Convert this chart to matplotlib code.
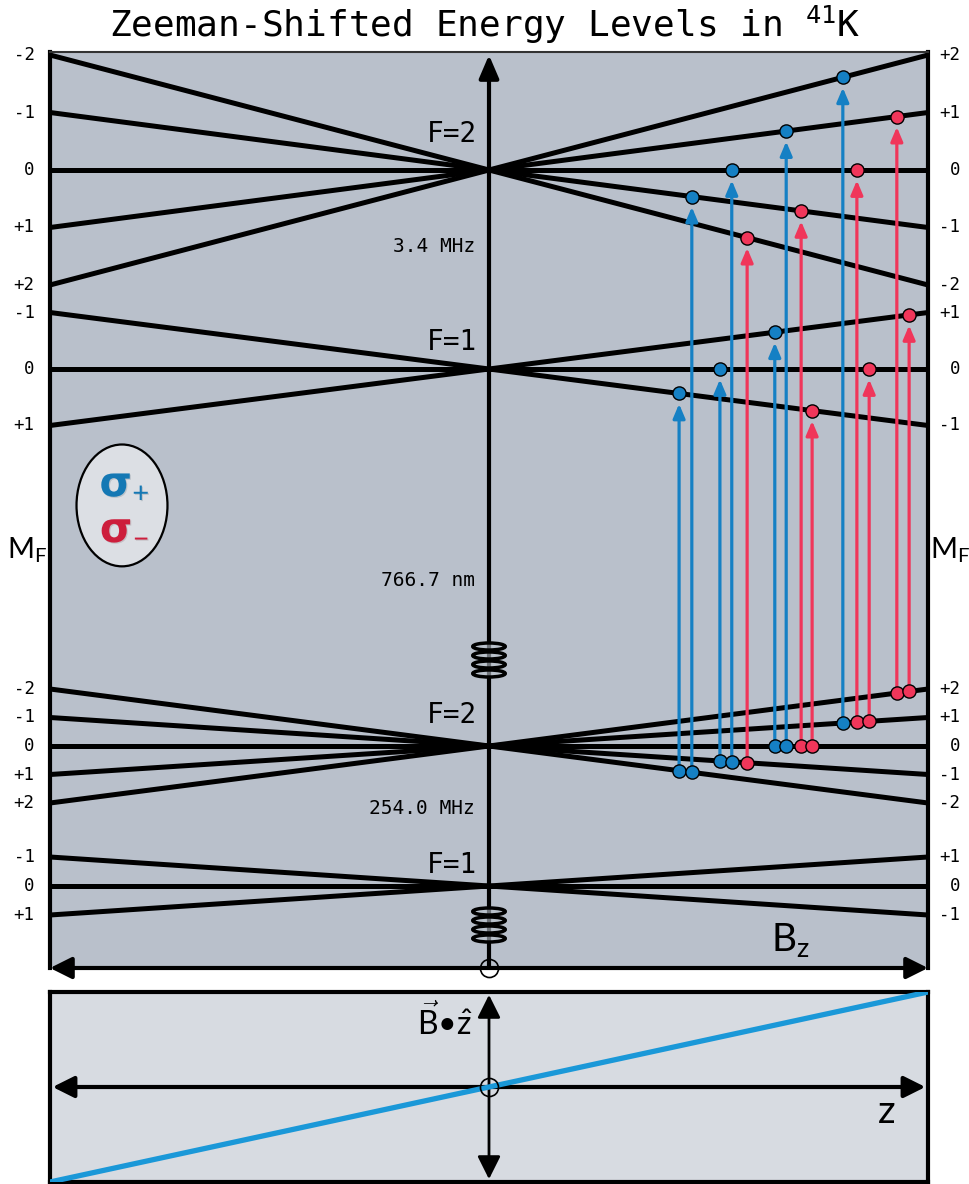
import matplotlib
matplotlib.use('Agg')
import matplotlib.pyplot as plt
from matplotlib.patches import Ellipse
import matplotlib.patheffects as pe

# Hyperfine levels of 41K (schematic energies, B in units of the max field)
LEVEL_F = [1, 2, 1, 2]                    # ground F=1, ground F=2, excited F=1, excited F=2
LEVEL_CENTER = [82, 222, 599, 798]        # zero-field energy
LEVEL_SLOPE = [29.0, 28.5, 56.5, 57.5]    # Zeeman shift per unit m_F at B = 1
F_LABELS = ['F=1', 'F=2', 'F=1', 'F=2']

# splittings written on the energy axis
SPLIT_TEXT = ['3.4 MHz', '766.7 nm', '254.0 MHz']
SPLIT_E = [721, 388, 160]

# sigma transitions: field value, ground m_F (F=2), excited F, excited m_F
TRANS_B = [0.433, 0.462, 0.526, 0.553, 0.588, 0.651, 0.677,
           0.711, 0.736, 0.806, 0.838, 0.866, 0.929, 0.957]
TRANS_MG = [-2, -2, -1, -1, -1, 0, 0, 0, 0, 1, 1, 1, 2, 2]
TRANS_FE = [1, 2, 1, 2, 2, 1, 2, 2, 1, 2, 2, 1, 2, 1]
TRANS_ME = [-1, -1, 0, 0, -2, 1, 1, -1, -1, 2, 0, 0, 1, 1]

# field profile along z (quadrupole trap, linear through zero)
Z_VALS = [-1.0, 1.0]
BZ_VALS = [-1.0, 1.0]

BLUE = '#1580C4'
RED = '#F0365A'
PANEL_BG = '#B9C0CB'
LOWER_BG = '#D7DBE1'
MONO = 'DejaVu Sans Mono'

plt.rcParams['mathtext.fontset'] = 'custom'
plt.rcParams['mathtext.rm'] = 'Lato'
plt.rcParams['mathtext.it'] = 'Lato:italic'
plt.rcParams['mathtext.bf'] = 'Lato:bold'
plt.rcParams['mathtext.tt'] = 'DejaVu Sans Mono'

W, H = 969, 1184
fig = plt.figure(figsize=(W / 100, H / 100), dpi=100)


def energy(i, m, b):
    return LEVEL_CENTER[i] + LEVEL_SLOPE[i] * m * b


def mlabel(m):
    return '0' if m == 0 else '%+d' % m


# ---- main panel: energy vs B ----
ax = fig.add_axes([50 / W, (H - 968) / H, 878 / W, 916 / H])
ax.set_facecolor(PANEL_BG)
ax.set_xlim(-1, 1)
ax.set_ylim(0, 916)
ax.set_xticks([])
ax.set_yticks([])
for side in ('left', 'right'):
    ax.spines[side].set_linewidth(3)
ax.spines['top'].set_linewidth(1.5)
ax.spines['top'].set_color('#333333')
ax.spines['bottom'].set_visible(False)

for i, F in enumerate(LEVEL_F):
    for m in range(-F, F + 1):
        ax.plot([-1, 1], [energy(i, m, -1), energy(i, m, 1)], color='k',
                lw=3.6, solid_capstyle='butt', zorder=2)
        ax.annotate(mlabel(m), xy=(-1, energy(i, m, -1)), xytext=(-11, 0),
                    textcoords='offset points', ha='right', va='center',
                    family=MONO, fontsize=12.5, annotation_clip=False)
        ax.annotate(mlabel(m), xy=(1, energy(i, m, 1)), xytext=(23, 0),
                    textcoords='offset points', ha='right', va='center',
                    family=MONO, fontsize=12.5, annotation_clip=False)

# F labels just above each crossing point
F_LABEL_E = [95, 245, 618, 826]
for txt, e in zip(F_LABELS, F_LABEL_E):
    ax.annotate(txt, xy=(0, e), xytext=(-8.6, 0), textcoords='offset points',
                ha='right', va='baseline', family=MONO, fontsize=20)

for txt, e in zip(SPLIT_TEXT, SPLIT_E):
    ax.annotate(txt, xy=(0, e), xytext=(-10, 0), textcoords='offset points',
                ha='right', va='center', family=MONO, fontsize=14)

# energy axis
ax.annotate('', xy=(0.5, 0.9967), xycoords='axes fraction', xytext=(0.5, 0.0),
            arrowprops=dict(arrowstyle='-|>,head_length=1.4,head_width=0.6',
                            color='k', lw=3, shrinkA=0, shrinkB=0), zorder=3)
# field axis along the bottom
ax.annotate('', xy=(1.0, 0.0), xycoords='axes fraction', xytext=(0.0, 0.0),
            arrowprops=dict(arrowstyle='<|-|>,head_length=1.3,head_width=0.65',
                            color='k', lw=3, shrinkA=0, shrinkB=0),
            annotation_clip=False, zorder=6)
ax.plot(0, 0, 'o', ms=13, mfc='none', mec='k', mew=1.2, clip_on=False, zorder=7)

# coil symbols on the energy axis
for ec in (308, 43):
    for k in range(4):
        ax.add_patch(Ellipse((0, ec + (1.5 - k) * 9), 0.074, 7,
                             fc=(0.73, 0.76, 0.80, 0.6), ec='k', lw=2.5, zorder=4))

# transitions from ground F=2
for b, mg, fe, me in zip(TRANS_B, TRANS_MG, TRANS_FE, TRANS_ME):
    col = BLUE if me - mg == 1 else RED
    ie = 3 if fe == 2 else 2
    y0 = energy(1, mg, b)
    y1 = energy(ie, me, b)
    ax.annotate('', xy=(b, y1), xytext=(b, y0),
                arrowprops=dict(arrowstyle='-|>,head_length=0.85,head_width=0.36',
                                color=col, lw=2.3, shrinkA=0, shrinkB=7.5),
                zorder=3)
    ax.plot([b, b], [y0, y1], 'o', ms=9.5, mfc=col, mec='k', mew=1, zorder=5)

# polarisation key
ax.add_patch(Ellipse((0.082, 0.505), 0.1036, 0.133, transform=ax.transAxes,
                     fc='#DCDFE4', ec='k', lw=1.6, zorder=6))
shadow = [pe.withSimplePatchShadow(offset=(0.8, -0.8), alpha=0.15)]
ax.text(0.085, 0.528, 'σ$_{+}$', transform=ax.transAxes, ha='center', va='center',
        color='#1478B4', fontsize=30, fontweight='bold', family='DejaVu Sans',
        path_effects=shadow, zorder=7)
ax.text(0.085, 0.478, 'σ$_{-}$', transform=ax.transAxes, ha='center', va='center',
        color='#CD1E3C', fontsize=30, fontweight='bold', family='DejaVu Sans',
        path_effects=shadow, zorder=7)

ax.text(0.843, 0.031, r'$\mathrm{B_z}$', transform=ax.transAxes, ha='center',
        va='center', fontsize=28)

fig.text(27 / W, 1 - 550 / H, r'$\mathrm{M_F}$', ha='center', va='center', fontsize=21)
fig.text(950 / W, 1 - 550 / H, r'$\mathrm{M_F}$', ha='center', va='center', fontsize=21)

fig.text(0.5, 1 - 25 / H, r'Zeeman-Shifted Energy Levels in $^{\mathtt{41}}$K',
         ha='center', va='center', family=MONO, fontsize=26)

# ---- lower panel: field along z ----
ax2 = fig.add_axes([50 / W, (H - 1182) / H, 878 / W, 190 / H])
ax2.set_facecolor(LOWER_BG)
ax2.set_xlim(-1, 1)
ax2.set_ylim(-1, 1)
ax2.set_xticks([])
ax2.set_yticks([])
for sp in ax2.spines.values():
    sp.set_linewidth(3)
ax2.plot(Z_VALS, BZ_VALS, color='#1A98D8', lw=3.8, zorder=4)
ax2.annotate('', xy=(0.997, 0.5), xycoords='axes fraction', xytext=(0.003, 0.5),
             arrowprops=dict(arrowstyle='<|-|>,head_length=1.3,head_width=0.65',
                             color='k', lw=3, shrinkA=0, shrinkB=0), zorder=3)
ax2.annotate('', xy=(0.5, 0.985), xycoords='axes fraction', xytext=(0.5, 0.015),
             arrowprops=dict(arrowstyle='<|-|>,head_length=1.4,head_width=0.7',
                             color='k', lw=2, shrinkA=0, shrinkB=0), zorder=3)
ax2.plot(0, 0, 'o', ms=13, mfc='none', mec='k', mew=1.2, zorder=5)
ax2.text(0.45, 0.775, r'$\vec{\mathrm{B}}$•$\hat{\mathrm{z}}$', family='Lato',
         transform=ax2.transAxes, ha='center', va='baseline', fontsize=23)
ax2.text(0.952, 0.368, r'$\mathrm{z}$', transform=ax2.transAxes, ha='center',
         va='center', fontsize=28)

fig.savefig('out.png', dpi=100)
